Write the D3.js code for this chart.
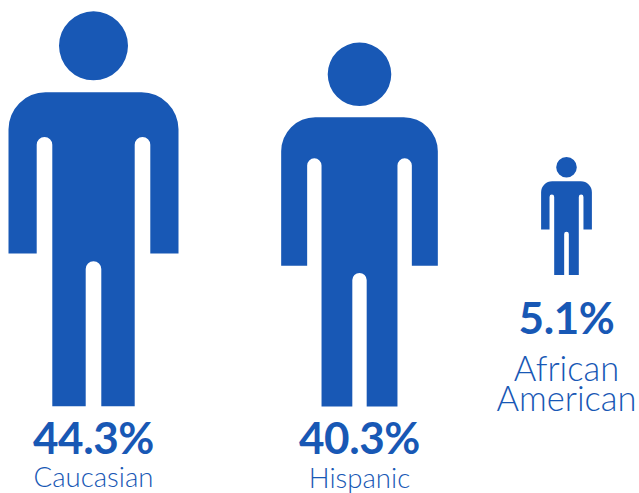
<!DOCTYPE html>
<html>
<head>
<meta charset="utf-8">
<script src="https://cdn.jsdelivr.net/npm/d3@7"></script>
<style>
  html, body { margin: 0; padding: 0; background: #fff; }
  svg { display: block; }
  text { font-family: Lato, "Open Sans", sans-serif; fill: #1858b5; text-anchor: middle; }
  .value { font-weight: 700; font-size: 44px; letter-spacing: -0.4px; }
  .name { font-weight: 300; }
</style>
</head>
<body>
<svg id="chart" width="639" height="493"></svg>
<script>
// Share of each group, drawn as a standing figure.
const categories = ["Caucasian", "Hispanic", "African American"];
const shares = [44.3, 40.3, 5.1];
const shareLabels = ["44.3%", "40.3%", "5.1%"];
const nameLines = [["Caucasian"], ["Hispanic"], ["African", "American"]];

const BLUE = "#1858b5";

// Figure height follows the share, with the small group kept legible.
const height = d3.scaleLinear().domain([5.1, 40.3, 44.3]).range([118, 364, 395]);
const centerX = d3.scaleOrdinal().domain(categories).range([93.5, 359.5, 566.5]);
const feetY = d3.scaleOrdinal().domain(categories).range([406.3, 406.5, 275]);
const valueY = d3.scaleOrdinal().domain(categories).range([454, 454, 334]);
const nameY = d3.scaleOrdinal().domain(categories).range([487, 488, 381]);
const nameSize = d3.scaleOrdinal().domain(categories).range([27.6, 27.6, 34.5]);

// Figure outline in a 395-unit tall box, origin at top centre.
function figurePath() {
  const p = d3.path();
  const hw = 85, top = 81, r = 37, armEnd = 242.3, armIn = 56.8, torso = 41.2;
  const gapTop = 125.7, gapR = (armIn - torso) / 2, bottom = 395, legGap = 7.8, crotch = 250;
  p.moveTo(-hw + r, top);
  p.lineTo(hw - r, top);
  p.arcTo(hw, top, hw, top + r, r);
  p.lineTo(hw, armEnd);
  p.lineTo(armIn, armEnd);
  p.lineTo(armIn, gapTop + gapR);
  p.arc(torso + gapR, gapTop + gapR, gapR, 0, Math.PI, true);
  p.lineTo(torso, bottom);
  p.lineTo(legGap, bottom);
  p.lineTo(legGap, crotch + legGap);
  p.arc(0, crotch + legGap, legGap, 0, Math.PI, true);
  p.lineTo(-legGap, bottom);
  p.lineTo(-torso, bottom);
  p.lineTo(-torso, gapTop + gapR);
  p.arc(-torso - gapR, gapTop + gapR, gapR, 0, Math.PI, true);
  p.lineTo(-armIn, armEnd);
  p.lineTo(-hw, armEnd);
  p.lineTo(-hw, top + r);
  p.arcTo(-hw, top, -hw + r, top, r);
  p.closePath();
  p.moveTo(34.5, 34.5);
  p.arc(0, 34.5, 34.5, 0, 2 * Math.PI);
  return p.toString();
}

const rows = categories.map((c, i) => ({
  category: c, share: shares[i], label: shareLabels[i], lines: nameLines[i]
}));

const groups = d3.select("#chart").selectAll("g.group")
  .data(rows)
  .join("g")
  .attr("class", "group");

groups.append("path")
  .attr("d", figurePath())
  .attr("fill", BLUE)
  .attr("transform", d => {
    const h = height(d.share);
    return `translate(${centerX(d.category)},${feetY(d.category) - h}) scale(${h / 395})`;
  });

groups.append("text")
  .attr("class", "value")
  .attr("x", d => centerX(d.category))
  .attr("y", d => valueY(d.category))
  .text(d => d.label);

groups.append("text")
  .attr("class", "name")
  .attr("x", d => centerX(d.category))
  .attr("y", d => nameY(d.category))
  .style("font-size", d => nameSize(d.category) + "px")
  .selectAll("tspan")
  .data(d => d.lines.map((line, i) => ({ line, i, x: centerX(d.category) })))
  .join("tspan")
  .attr("x", d => d.x)
  .attr("dy", d => d.i ? 30 : 0)
  .text(d => d.line);
</script>
</body>
</html>
